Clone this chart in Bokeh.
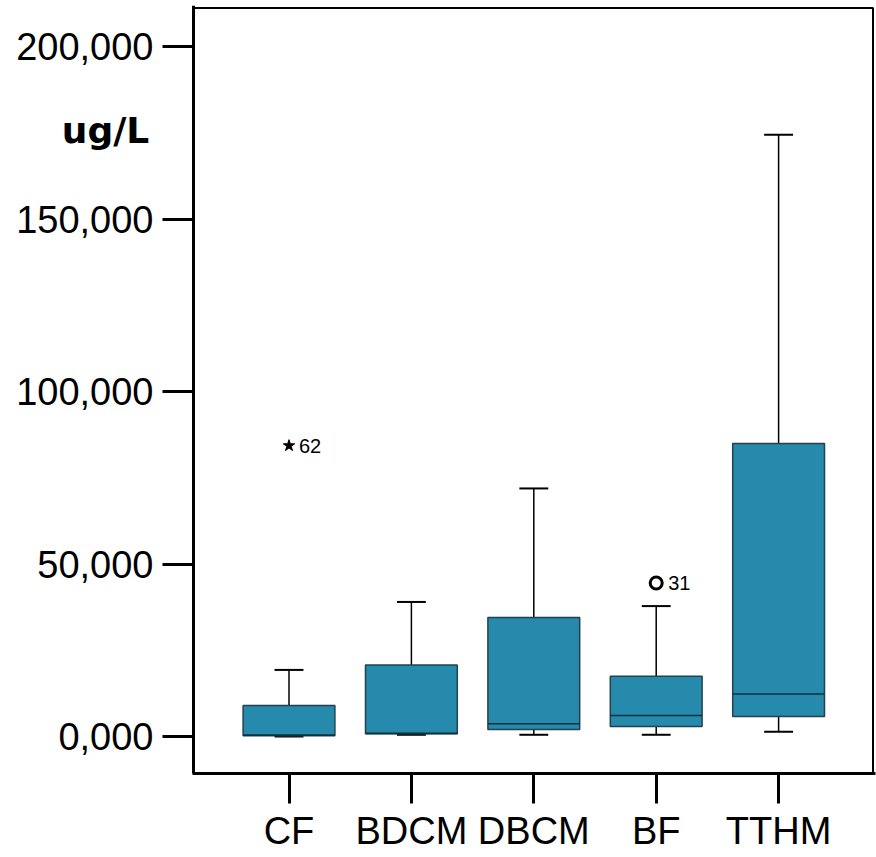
from bokeh.plotting import figure
from bokeh.models import ColumnDataSource, FixedTicker, Label, Range1d, BoxAnnotation
from bokeh.embed import file_html
from bokeh.resources import INLINE
from bokeh.core.properties import value

# ---- data ----
categories = ["CF", "BDCM", "DBCM", "BF", "TTHM"]
q1 = [200, 780, 2000, 2900, 5800]
median = [400, 900, 3700, 6100, 12300]
q3 = [9000, 20700, 34500, 17500, 84900]
lower_whisker = [0, 500, 500, 500, 1400]
upper_whisker = [19300, 39000, 71900, 37800, 174400]

extreme_cat = ["CF"]
extreme_val = [84300]
extreme_id = ["62"]

outlier_cat = ["BF"]
outlier_val = [44500]
outlier_id = ["31"]

y_ticks = [0, 50000, 100000, 150000, 200000]
y_tick_labels = ["0,000", "50,000", "100,000", "150,000", "200,000"]
unit_label = "ug/L"

# ---- geometry helpers (pixel <-> data) ----
PX_PER_X = 122.4      # px per category step
X1_PX = 288.5         # pixel of first category
Y0_PX = 736.0         # pixel of y = 0
PX_PER_Y = 0.00345    # px per unit


def xd(px):
    return 1 + (px - X1_PX) / PX_PER_X


def yd(py):
    return (Y0_PX - py) / PX_PER_Y


pos = {c: i + 1 for i, c in enumerate(categories)}
xs = [pos[c] for c in categories]
box_half = 0.375
cap_half = 0.118

p = figure(width=876, height=857, output_backend="svg", toolbar_location=None,
           x_range=Range1d(xd(0), xd(875)), y_range=Range1d(yd(773), yd(5)),
           min_border_left=0, min_border_right=1, min_border_top=5,
           min_border_bottom=84)
p.background_fill_color = "white"
p.border_fill_color = "white"
p.outline_line_color = None
p.xgrid.visible = False
p.ygrid.visible = False

# plot frame (top and right edges)
p.add_layout(BoxAnnotation(left=xd(193), right=xd(872.5), top=yd(7.5), bottom=yd(773),
                           fill_alpha=0, line_color="black", line_alpha=1.0,
                           line_width=2))

src = ColumnDataSource(dict(
    x=xs, left=[x - box_half for x in xs], right=[x + box_half for x in xs],
    cl=[x - cap_half for x in xs], cr=[x + cap_half for x in xs],
    q1=q1, q3=q3, med=median, lo=lower_whisker, hi=upper_whisker))

# whiskers
p.segment(x0="x", y0="q3", x1="x", y1="hi", source=src, line_color="black", line_width=1.5)
p.segment(x0="x", y0="q1", x1="x", y1="lo", source=src, line_color="black", line_width=1.5)
p.segment(x0="cl", y0="hi", x1="cr", y1="hi", source=src, line_color="black", line_width=2)
p.segment(x0="cl", y0="lo", x1="cr", y1="lo", source=src, line_color="black", line_width=2)

# boxes
p.quad(left="left", right="right", bottom="q1", top="q3", source=src,
       fill_color="#258AAC", line_color="#24424E", line_width=1.5)
p.segment(x0="left", y0="med", x1="right", y1="med", source=src,
          line_color="#12303A", line_width=1.6)

# outliers
ex_src = ColumnDataSource(dict(x=[pos[c] for c in extreme_cat], y=extreme_val, t=extreme_id))
p.scatter(x="x", y="y", source=ex_src, marker="star", size=12,
          fill_color="black", line_color="black")
p.text(x="x", y="y", text="t", source=ex_src, x_offset=10, text_baseline="middle",
       text_font=value("Liberation Sans"), text_font_size="20px", text_color="black")

ol_src = ColumnDataSource(dict(x=[pos[c] for c in outlier_cat], y=outlier_val, t=outlier_id))
p.scatter(x="x", y="y", source=ol_src, marker="circle", size=12,
          fill_color=None, line_color="black", line_width=3)
p.text(x="x", y="y", text="t", source=ol_src, x_offset=12, text_baseline="middle",
       text_font=value("Liberation Sans"), text_font_size="20px", text_color="black")

# axes
p.yaxis.ticker = FixedTicker(ticks=y_ticks)
p.yaxis.major_label_overrides = {t: l for t, l in zip(y_ticks, y_tick_labels)}
p.yaxis.fixed_location = xd(193)
p.xaxis.ticker = FixedTicker(ticks=xs)
p.xaxis.major_label_overrides = {x: c for x, c in zip(xs, categories)}
p.xaxis.bounds = (xd(192), xd(875))

for ax in (p.xaxis[0], p.yaxis[0]):
    ax.axis_line_width = 3
    ax.axis_line_color = "black"
    ax.major_tick_line_width = 3
    ax.major_tick_line_color = "black"
    ax.major_tick_in = 0
    ax.minor_tick_line_color = None
    ax.major_label_text_font = "Liberation Sans"
    ax.major_label_text_font_size = "38px"
    ax.major_label_text_color = "black"

p.yaxis.major_tick_out = 31
p.yaxis.major_label_standoff = 9
p.xaxis.major_tick_out = 30
p.xaxis.major_label_standoff = 6

p.add_layout(Label(x=xd(105), y=yd(130), text=unit_label,
                   text_align="center", text_baseline="middle",
                   text_font="DejaVu Sans", text_font_style="bold",
                   text_font_size="36px", text_color="black"))

open("out.html", "w").write(file_html(p, INLINE))
